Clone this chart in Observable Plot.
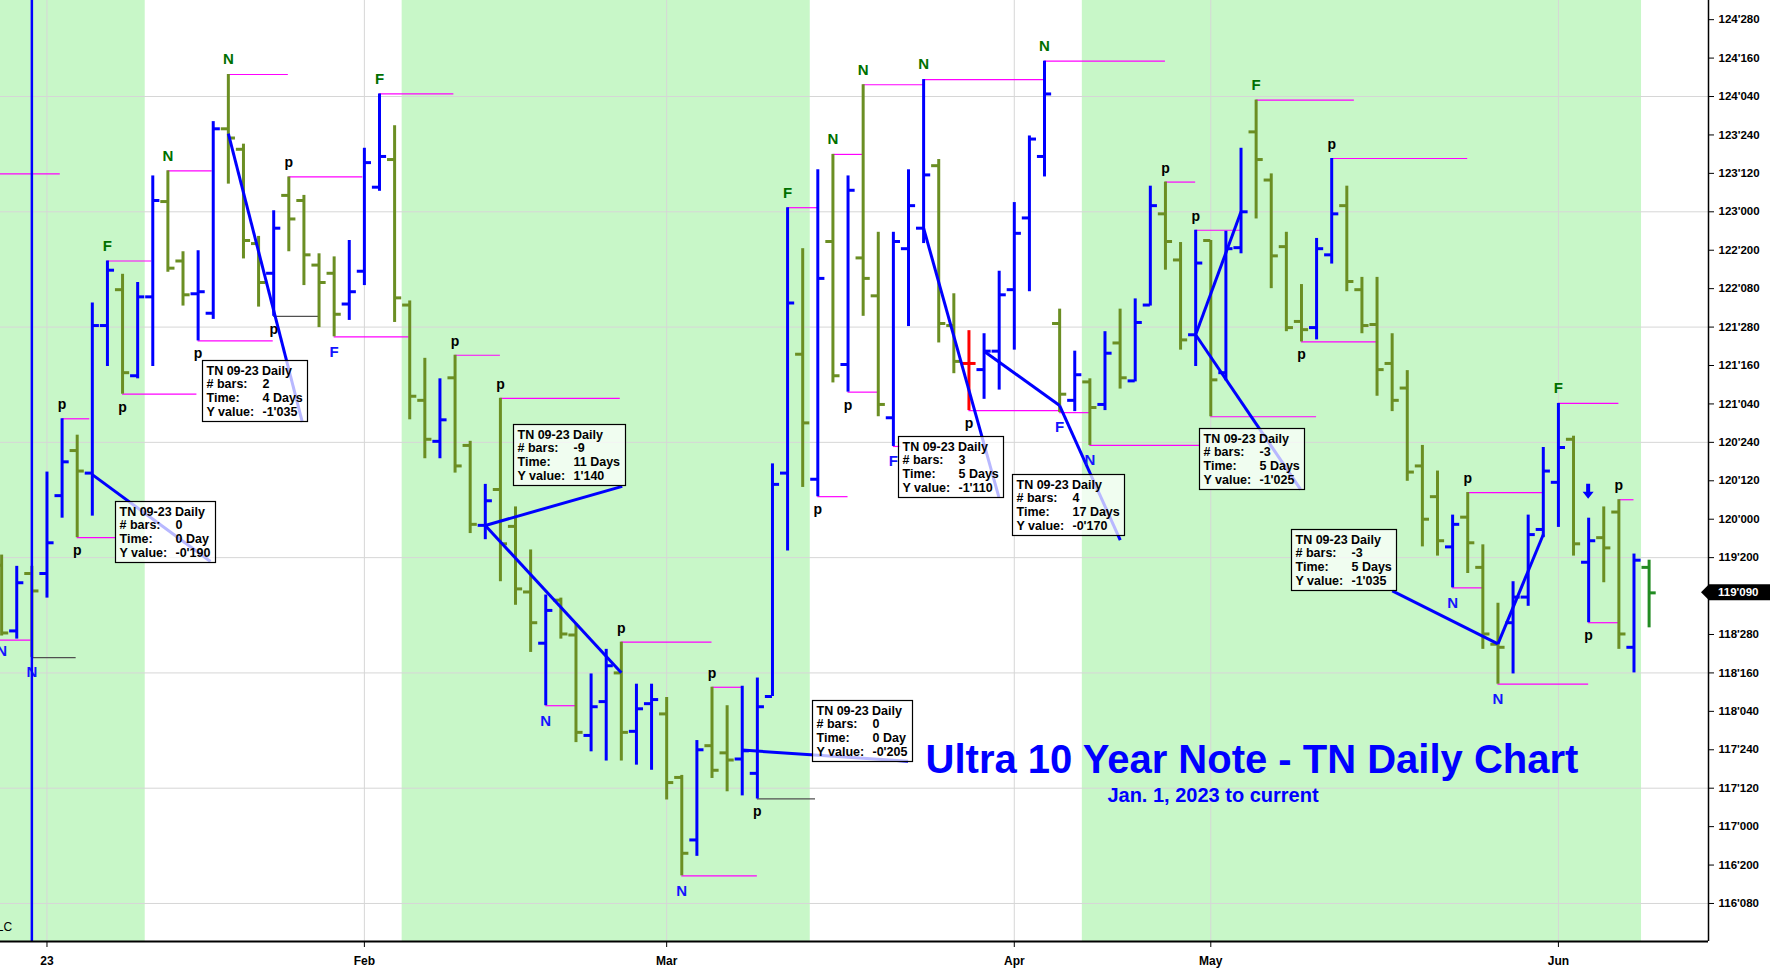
<!DOCTYPE html>
<html><head><meta charset="utf-8">
<script src="https://cdn.jsdelivr.net/npm/d3@7"></script>
<script src="https://cdn.jsdelivr.net/npm/@observablehq/plot@0.6"></script>
<style>
html,body{margin:0;padding:0;background:#fff;overflow:hidden;}
#chart{position:relative;width:1770px;height:973px;}
</style></head><body><div id="chart"></div>
<script>
// ---- OHLC values (Ultra 10Y Note futures, points) ----
const opens = [119.55,118.91,119.47,119.47,120.23,120.67,120.45,121.89,122.24,121.40,
122.17,123.10,122.52,122.20,122.01,123.81,123.61,122.69,122.40,123.16,
123.11,122.48,122.40,122.10,122.42,123.24,123.51,122.09,121.16,120.76,
121.38,120.72,119.94,120.29,119.93,119.29,118.79,119.21,118.87,117.89,
118.22,118.50,117.93,118.20,118.10,117.48,116.87,117.79,117.72,117.66,
117.52,118.27,120.45,121.61,120.39,122.71,121.51,122.55,122.18,120.99,
122.64,122.84,123.45,121.89,121.52,121.46,121.64,122.24,122.94,123.54,
121.91,121.16,121.34,121.12,121.72,121.35,122.09,122.98,122.53,121.80,
122.72,121.43,122.65,123.78,123.31,122.66,121.93,121.87,122.58,123.06,
122.24,121.90,121.52,121.28,120.52,120.22,119.73,120.02,119.53,118.78,
118.99,119.24,119.90,120.36,120.78,119.58,119.82,120.07,118.75,119.53];
const highs = [119.65,119.54,119.54,120.46,120.98,120.82,122.11,122.52,122.39,122.31,
123.35,123.40,122.61,122.62,123.88,124.34,123.66,122.76,123.01,123.34,
123.16,122.59,122.56,122.72,123.62,124.15,123.84,122.13,121.57,121.37,
121.60,120.76,120.34,121.18,120.12,119.70,119.26,119.23,118.98,118.49,
118.73,118.80,118.39,118.39,118.26,117.50,117.84,118.36,118.18,118.37,
118.45,120.54,123.04,122.64,123.41,123.56,123.35,124.24,122.80,122.80,
123.41,124.29,123.51,122.20,121.84,121.81,122.42,123.09,123.74,124.47,
122.05,121.64,121.37,121.83,122.05,122.15,123.25,123.29,122.70,122.82,
122.72,122.81,123.62,124.09,123.37,122.80,122.29,122.74,123.52,123.25,
122.36,122.36,121.81,121.45,120.72,120.47,120.04,120.26,119.75,119.18,
119.39,120.04,120.70,121.13,120.81,120.01,120.12,120.19,119.66,119.60];
const lows = [118.86,118.83,118.65,119.23,120.01,119.82,120.03,121.49,121.22,121.37,
121.49,122.41,122.08,121.74,121.95,123.27,122.54,122.07,121.98,122.61,
122.28,121.87,121.78,121.94,122.28,123.20,121.92,120.97,120.59,120.59,
120.45,119.86,119.80,119.39,119.16,118.70,118.18,118.83,117.82,117.73,
117.64,117.64,117.60,117.55,117.26,116.52,116.71,117.47,117.34,117.30,
117.27,118.27,119.69,120.31,120.22,121.33,121.24,121.98,121.00,120.71,
121.88,122.69,121.72,121.42,121.06,121.17,121.26,121.65,122.22,123.34,
121.04,121.05,120.72,121.06,121.27,121.34,122.08,122.43,121.65,121.49,
121.00,121.35,122.59,122.93,122.25,121.83,121.73,121.75,122.49,122.22,
121.81,121.20,121.05,120.37,119.73,119.64,119.33,119.47,118.73,118.39,
118.49,119.15,119.82,119.92,119.64,118.99,119.38,118.73,118.50,118.94];
const closes = [118.89,119.38,119.30,119.77,120.56,120.47,121.89,122.43,121.43,122.17,
123.11,122.45,122.19,122.22,123.81,123.72,122.72,122.31,122.84,122.93,
122.58,122.31,122.00,122.22,123.48,123.54,122.16,121.20,120.78,120.97,
120.52,119.95,120.18,119.76,119.32,118.99,119.11,118.88,117.92,118.17,
118.57,117.92,118.15,118.24,117.43,116.74,117.75,117.55,117.65,117.74,
118.17,120.34,122.11,120.94,122.35,121.40,123.21,122.35,121.12,122.71,
123.06,123.36,121.91,121.54,121.52,121.64,122.19,122.79,123.71,124.15,
121.22,121.41,121.09,121.62,121.38,121.92,123.06,122.71,121.75,122.50,
121.36,122.64,123.00,123.51,122.57,121.87,121.85,122.64,122.98,122.32,
121.89,121.46,121.16,120.46,120.00,119.79,119.95,119.77,118.88,118.75,
119.24,119.85,120.47,120.70,119.76,119.79,119.72,118.88,119.60,119.28125];

// ---- axis ticks ----
const monthIdx = [3, 24, 44, 67, 80, 103];
const monthLabels = ["23", "Feb", "Mar", "Apr", "May", "Jun"];
// 119'080 is hidden behind the last-price marker in the reference
const yTicks = [116.25,116.625,117,117.375,117.75,118.125,118.5,118.875,119.625,120,120.375,120.75,121.125,121.5,121.875,122.25,122.625,123,123.375,123.75,124.125,124.5,124.875];
const gridTicks = [116.25,117.375,118.5,119.625,120.75,121.875,123,124.125];

// ---- shaded cycle bands (bar index) ----
const bandStart = [-0.5, 26.5, 71.5];
const bandEnd = [9.5, 53.5, 108.5];

// ---- horizontal swing lines [fromIdx, toIdx, price, dark] ----
const swingLines = [
[-0.2,3.88,123.37,0],[-0.2,1.94,118.82,0],[2,4.93,118.65,1],[4,5.83,120.98,0],[5,7.54,119.82,0],
[7,9.93,122.52,0],[8,12.92,121.22,0],[11,13.93,123.40,0],[13,17.97,121.74,0],[15,18.97,124.34,0],
[18,20.99,121.98,1],[19,23.9,123.34,0],[22,26.96,121.78,0],[25,29.92,124.15,0],[30,33,121.60,0],
[33,40.93,121.18,0],[36,38,118.18,0],[41,47,118.80,0],[47,49,118.36,0],[45,50,116.52,0],
[50,53.85,117.27,1],[52,54,123.04,0],[54,56,120.22,0],[55,57,123.56,0],[57,61,124.24,0],
[56,58,121.24,0],[61,69,124.29,0],[59,59.5,120.71,0],[64,70,121.06,0],[69,77,124.47,0],
[70,72,121.04,0],[72,79.3,120.72,0],[77,79,123.29,0],[79,82,122.82,0],[80,87,121.00,0],
[83,89.5,124.09,0],[88,97,123.52,0],[86,91,121.73,0],[96,98,119.33,0],[97,102,120.26,0],
[99,105,118.39,0],[103,107,121.13,0],[105,107,118.99,0],[107,108,120.19,0]];

// ---- swing labels ----
const topLabels = [[7,"F"],[11,"N"],[15,"N"],[25,"F"],[52,"F"],[55,"N"],[57,"N"],[61,"N"],[69,"N"],[83,"F"],[103,"F"]];
const bottomLabels = [[0,"N"],[2,"N"],[22,"F"],[36,"N"],[45,"N"],[59,"F"],[70,"F"],[72,"N"],[96,"N"],[99,"N"]];
const pTop = [4,19,30,33,41,47,77,79,88,97,107];
const pBottom = [5,8,13,18,50,54,56,64,86,105];

// ---- measurement lines [x1, y1, x2, y2] ----
const measureSegs = [
[6,120.435,13.82,119.587],[15,123.762,19.89,120.949],[32,119.939,41.06,120.321],[32,119.939,41,118.501],
[49,117.747,59.97,117.637],[61,122.84,65.98,120.215],[65,121.64,70,121.109],[70,121.109,74.01,119.796],
[79,121.80,82,123.00],[79,121.80,85.94,120.292],[92.01,119.30,99,118.783],[99,118.783,102,119.851]];

// ---- measurement boxes: top-left [idx, price], bars, time, y value ----
const boxAnchors = [[7.53,120.174],[13.27,121.553],[33.85,120.928],[53.63,118.231],[59.32,120.806],[66.86,120.433],[79.24,120.89],[85.32,119.902]];
const boxBars = ["0","2","-9","0","3","4","-3","-3"];
const boxTimes = ["0 Day","4 Days","11 Days","0 Day","5 Days","17 Days","5 Days","5 Days"];
const boxYvals = ["-0'190","-1'035","1'140","-0'205","-1'110","-0'170","-1'025","-1'035"];

const cursorIdx = 2;
const arrowIdx = 105;
const titleText = "Ultra 10 Year Note - TN Daily Chart";
const subtitleText = "Jan. 1, 2023 to current";

// ---- build ----
const n = opens.length;
const bars = opens.map((o, i) => ({i, open: o, high: highs[i], low: lows[i], close: closes[i]}));
const barColor = d => d.i === n - 1 ? "#228b22" : d.close > d.open ? "#0000ff" : d.close < d.open ? "#6b8e23" : "#ff0000";
const xDomain = [-0.075, 112.93];
const yDomain = [115.879, 125.062];
const fmt32 = v => { const w = Math.floor(v + 1e-9); const t = Math.round((v - w) * 320); return `${w}'${String(t).padStart(3, "0")}`; };
const monthMap = new Map(monthIdx.map((d, k) => [d, monthLabels[k]]));
const bands = bandStart.map((s, k) => ({s, e: bandEnd[k]}));
const hl = swingLines.map(([a, b, p, k]) => ({a, b, p, k}));
const FONT = "'Liberation Sans', Arial, Helvetica, sans-serif";

const chart = Plot.plot({
  width: 1770, height: 973,
  marginLeft: 0, marginRight: 62, marginTop: 0, marginBottom: 32,
  x: {domain: xDomain, axis: null},
  y: {domain: yDomain, axis: null},
  color: {type: "identity"},
  style: {fontFamily: FONT, background: "#fff", overflow: "visible"},
  marks: [
    Plot.rect(bands, {x1: "s", x2: "e", y1: () => yDomain[0], y2: () => yDomain[1], fill: "#c8f7c8"}),
    Plot.gridX(monthIdx, {stroke: "#d6d6d6", strokeOpacity: 1}),
    Plot.gridY(gridTicks, {stroke: "#d6d6d6", strokeOpacity: 1}),
    Plot.ruleY(hl, {y: "p", x1: "a", x2: "b", stroke: d => d.k ? "#505050" : "#ff00ff", strokeWidth: 1.2}),
    Plot.ruleX(bars, {x: "i", y1: "low", y2: "high", stroke: barColor, strokeWidth: 3}),
    Plot.ruleY(bars, {y: "open", x1: d => d.i - 0.47, x2: d => d.i, stroke: barColor, strokeWidth: 3}),
    Plot.ruleY(bars, {y: "close", x1: d => d.i, x2: d => d.i + 0.47, stroke: barColor, strokeWidth: 3}),
    Plot.link(measureSegs, {x1: d => d[0], y1: d => d[1], x2: d => d[2], y2: d => d[3], stroke: "#0000ff", strokeWidth: 3}),
    Plot.text(topLabels, {x: d => d[0], y: d => highs[d[0]], text: d => d[1], dy: -15, fill: "#007000", fontSize: 15, fontWeight: "bold"}),
    Plot.text(bottomLabels, {x: d => d[0], y: d => lows[d[0]], text: d => d[1], dy: 15, fill: "#1414ff", fontSize: 15, fontWeight: "bold"}),
    Plot.text(pTop, {x: d => d, y: d => highs[d], text: () => "p", dy: -14, fill: "#000", fontSize: 14, fontWeight: "bold"}),
    Plot.text(pBottom, {x: d => d, y: d => lows[d], text: () => "p", dy: 13, fill: "#000", fontSize: 14, fontWeight: "bold"}),
    Plot.ruleX([cursorIdx], {stroke: "#0000ff", strokeWidth: 2.5}),
    Plot.text(["LC"], {x: 0.69, y: 116.02, text: d => d, textAnchor: "end", fontSize: 12, fill: "#000"}),
    Plot.ruleY([yDomain[0]], {stroke: "#000", strokeWidth: 2}),
    Plot.ruleX([xDomain[1]], {stroke: "#000", strokeWidth: 1.5}),
    Plot.axisX(monthIdx, {anchor: "bottom", tickFormat: d => monthMap.get(d), tickSize: 6, tickPadding: 9, fontSize: 12, fontWeight: "bold"}),
    Plot.axisY(yTicks, {anchor: "right", tickFormat: fmt32, tickSize: 5, tickPadding: 5, fontSize: 11.5, fontWeight: "bold"})
  ]
});
document.getElementById("chart").appendChild(chart);

const xs = chart.scale("x"), ys = chart.scale("y");
const svg = d3.select(chart);

// measurement boxes
const gB = svg.append("g").attr("font-family", FONT).attr("font-size", 12.5).attr("font-weight", "bold")
  .attr("fill", "#000").attr("text-anchor", "start");
boxAnchors.forEach(([bx, by], k) => {
  const X = Math.round(xs.apply(bx)) + 0.5, Y = Math.round(ys.apply(by)) + 0.5;
  const g = gB.append("g");
  const rect = g.append("rect").attr("x", X).attr("y", Y).attr("height", 61)
    .attr("fill", "#fff").attr("fill-opacity", 0.72).attr("stroke", "#000").attr("stroke-width", 1.2);
  const rows = [["TN 09-23 Daily", ""], ["# bars:", boxBars[k]], ["Time:", boxTimes[k]], ["Y value:", boxYvals[k]]];
  let w = 0;
  rows.forEach((r, j) => {
    const yy = Y + 14 + j * 13.7;
    const t1 = g.append("text").attr("x", X + 4).attr("y", yy).attr("text-anchor", "start").text(r[0]);
    w = Math.max(w, 4 + t1.node().getComputedTextLength());
    if (r[1]) {
      const t2 = g.append("text").attr("x", X + 60).attr("y", yy).attr("text-anchor", "start").text(r[1]);
      w = Math.max(w, 60 + t2.node().getComputedTextLength());
    }
  });
  rect.attr("width", Math.round(w + 5));
});

// down arrow above bar
{
  const ax = xs.apply(arrowIdx), hy = ys.apply(highs[arrowIdx]);
  const tip = hy - 19, hb = hy - 26, top = hy - 34;
  svg.append("path").attr("fill", "#0000ff")
    .attr("d", `M${ax-2},${top}L${ax+2},${top}L${ax+2},${hb}L${ax+5.5},${hb}L${ax},${tip}L${ax-5.5},${hb}L${ax-2},${hb}Z`);
}

// current price marker
{
  const last = closes[n - 1];
  const yc = ys.apply(last), xr = xs.apply(xDomain[1]);
  svg.append("path").attr("fill", "#000")
    .attr("d", `M${xr-7},${yc}L${xr+1},${yc-8}L1770,${yc-8}L1770,${yc+8}L${xr+1},${yc+8}Z`);
  svg.append("text").attr("x", xr + 10).attr("y", yc + 4).attr("fill", "#fff").attr("text-anchor", "start")
    .attr("font-family", FONT).attr("font-weight", "bold").attr("font-size", 11.5).text(fmt32(last));
}

// title overlay
svg.append("text").attr("x", 1252).attr("y", 773).attr("text-anchor", "middle")
  .attr("font-family", FONT).attr("font-weight", "bold").attr("font-size", 40).attr("fill", "#0000ff").text(titleText);
svg.append("text").attr("x", 1213).attr("y", 802).attr("text-anchor", "middle")
  .attr("font-family", FONT).attr("font-weight", "bold").attr("font-size", 20).attr("fill", "#0000ff").text(subtitleText);
</script></body></html>
